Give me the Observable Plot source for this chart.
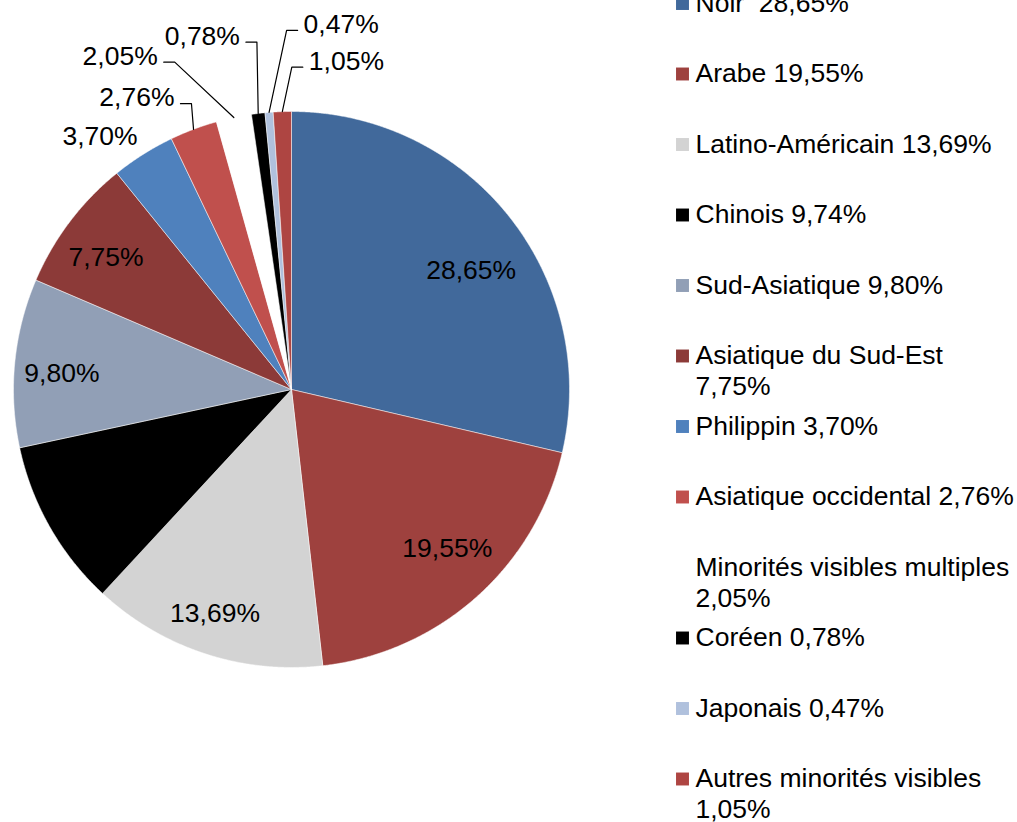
<!DOCTYPE html>
<html>
<head>
<meta charset="utf-8">
<script src="https://cdn.jsdelivr.net/npm/d3@7"></script>
<script src="https://cdn.jsdelivr.net/npm/@observablehq/plot@0.6"></script>
<style>
  html, body { margin: 0; padding: 0; background: #ffffff; overflow: hidden; }
  #chart svg text { white-space: pre; }
</style>
</head>
<body>
<div id="chart"></div>
<script>
// ---------- DATA ----------
const categories = [
  "Noir ",
  "Arabe",
  "Latino-Américain",
  "Chinois",
  "Sud-Asiatique",
  "Asiatique du Sud-Est",
  "Philippin",
  "Asiatique occidental",
  "Minorités visibles multiples",
  "Coréen",
  "Japonais",
  "Autres minorités visibles"
];
const values = [28.65, 19.55, 13.69, 9.74, 9.80, 7.75, 3.70, 2.76, 2.05, 0.78, 0.47, 1.05];
const colors = [
  "#41699b", "#9e413e", "#d3d3d3", "#000000", "#919fb6", "#8c3a38",
  "#4f81bd", "#c0504d", "#ffffff", "#000000", "#b0c1dd", "#ae4542"
];

// ---------- LAYOUT ----------
const W = 1017, H = 822;
const CX = 291, CY = 389, R = 278;          // pie centre and radius (px)
const FONT = "'Liberation Sans', Arial, Helvetica, sans-serif";
const FS = 26.5;
// label placement: angular nudge (deg) from slice middle, radius as multiple of R
const labelNudge  = [4.8, -2.8, 0.7, 0, -1.5, -1.8, 1.4, -0.6, -9.35, -0.6, 5.6, 3.9];
const labelRadius = [0.776, 0.80, 0.85, 0.80, 0.828, 0.818, 1.037, 1.103, 1.264, 1.26, 1.292, 1.16];
const legendLeft = 695, legendSwatch = 682, legendTop = 3, legendStep = 70.5, legendLine = 31, legendMax = 322;
const leaderElbow = 11, leaderMin = 1.08;

const fmt = v => v.toFixed(2).replace(".", ",") + "%";
const px2x = p => (p - CX) / R;
const px2y = p => (CY - p) / R;

// ---------- PIE GEOMETRY ----------
const total = d3.sum(values);
let cum = 0;
const slices = categories.map((name, i) => {
  const a0 = cum / total * 2 * Math.PI;
  cum += values[i];
  const a1 = cum / total * 2 * Math.PI;
  return {name, value: values[i], a0, a1, i};
});

const slicePts = [];
for (const s of slices) {
  const n = Math.max(2, Math.ceil((s.a1 - s.a0) / (Math.PI / 720)));
  slicePts.push({name: s.name, x: 0, y: 0});
  for (let k = 0; k <= n; k++) {
    const a = s.a0 + (s.a1 - s.a0) * k / n;
    slicePts.push({name: s.name, x: Math.sin(a), y: Math.cos(a)});
  }
  slicePts.push({name: s.name, x: 0, y: 0});
}

// ---------- LABELS ----------
const labels = slices.map(s => {
  const mid = (s.a0 + s.a1) / 2;
  const a = mid + labelNudge[s.i] * Math.PI / 180;
  const r = labelRadius[s.i];
  return {name: s.name, mid, r, x: r * Math.sin(a), y: r * Math.cos(a), text: fmt(s.value)};
});
const inLabels = labels.filter(d => d.r <= 1);
const outEnd = labels.filter(d => d.r > 1 && d.x < 0);
const outStart = labels.filter(d => d.r > 1 && d.x >= 0);

const leaders = [];
for (const d of labels.filter(d => d.r > leaderMin)) {
  const side = d.x < 0 ? 1 : -1;
  leaders.push({name: d.name, x: Math.sin(d.mid), y: Math.cos(d.mid)});
  leaders.push({name: d.name, x: d.x + side * leaderElbow / R, y: d.y});
  leaders.push({name: d.name, x: d.x, y: d.y});
}

// ---------- LEGEND ----------
const ctx = document.createElement("canvas").getContext("2d");
ctx.font = `${FS}px ${FONT}`;
function wrap(str) {
  const words = str.split(" ");
  const lines = [];
  let cur = "";
  for (const w of words) {
    const t = cur === "" ? w : cur + " " + w;
    if (cur !== "" && cur.trim() !== "" && ctx.measureText(t).width > legendMax) {
      lines.push(cur);
      cur = w;
    } else cur = t;
  }
  lines.push(cur);
  return lines;
}
const legendSw = [], legendTxt = [];
slices.forEach((s, i) => {
  const yPx = legendTop + legendStep * i;
  legendSw.push({name: s.name, x: px2x(legendSwatch), y: px2y(yPx)});
  wrap(`${s.name} ${fmt(s.value)}`).forEach((line, k) => {
    legendTxt.push({text: line, x: px2x(legendLeft), y: px2y(yPx + legendLine * k)});
  });
});

// ---------- PLOT ----------
const chart = Plot.plot({
  width: W,
  height: H,
  margin: 0,
  x: {domain: [-CX / R, (W - CX) / R], axis: null},
  y: {domain: [-(H - CY) / R, CY / R], axis: null},
  color: {domain: categories, range: colors},
  style: {fontFamily: FONT, fontSize: FS + "px", background: "#ffffff", overflow: "hidden"},
  marks: [
    Plot.line(slicePts, {x: "x", y: "y", z: "name", fill: "name", stroke: "#ffffff", strokeWidth: 0.5, strokeLinejoin: "round"}),
    Plot.line(leaders, {x: "x", y: "y", z: "name", stroke: "#000000", strokeWidth: 1.2}),
    Plot.text(inLabels, {x: "x", y: "y", text: "text", fontSize: FS, fill: "#000000", textAnchor: "middle"}),
    Plot.text(outEnd, {x: "x", y: "y", text: "text", fontSize: FS, fill: "#000000", textAnchor: "end", dx: -6, dy: -6}),
    Plot.text(outStart, {x: "x", y: "y", text: "text", fontSize: FS, fill: "#000000", textAnchor: "start", dx: 6, dy: -6}),
    Plot.dot(legendSw, {x: "x", y: "y", fill: "name", symbol: "square", r: 7.3}),
    Plot.text(legendTxt, {x: "x", y: "y", text: "text", fontSize: FS, fill: "#000000", textAnchor: "start"})
  ]
});
document.getElementById("chart").appendChild(chart);
</script>
</body>
</html>
